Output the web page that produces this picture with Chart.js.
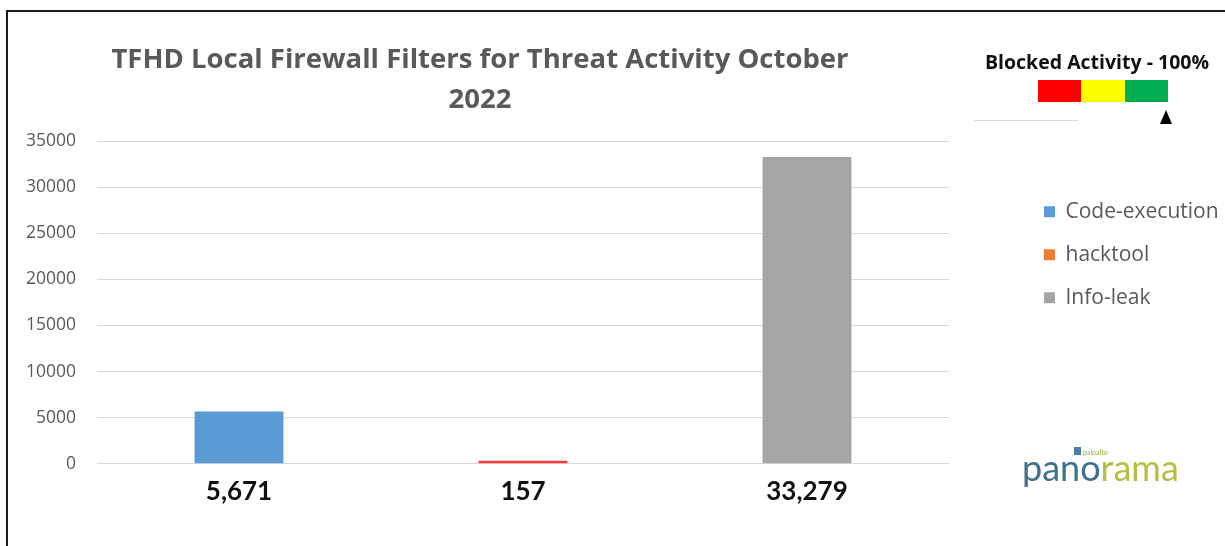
<!DOCTYPE html>
<html>
<head>
<meta charset="utf-8">
<script src="https://cdn.jsdelivr.net/npm/chart.js@4.4.0/dist/chart.umd.min.js"></script>
<style>
  html, body { margin: 0; padding: 0; background: #fff; }
  #wrap { width: 1225px; height: 546px; position: relative; }
</style>
</head>
<body>
<div id="wrap"><canvas id="chart"></canvas></div>
<script>
// Threat categories and counts
const seriesNames = ['Code-execution', 'hacktool', 'Info-leak'];
const xLabels = ['5,671', '157', '33,279'];
const values = [5671, 157, 33279];
const barColors = ['#5B9BD5', '#FF3B3B', '#A5A5A5'];
const legendColors = ['#5B9BD5', '#ED7D31', '#A5A5A5'];
const yTicks = [0, 5000, 10000, 15000, 20000, 25000, 30000, 35000];

const titleLines = ['TFHD Local Firewall Filters for Threat Activity October', '2022'];

// frame, gauge and logo drawn around the chart
const decorations = {
    id: 'decorations',
    afterLayout(chart) {
        // title sits centred over the left part, not the whole canvas
        const t = chart.titleBlock;
        if (t) { t.left = 0; t.right = 960; t.width = 960; }
    },
    beforeDraw(chart) {
        const ctx = chart.ctx;
        ctx.save();
        ctx.fillStyle = '#fff';
        ctx.fillRect(0, 0, chart.width, chart.height);
        ctx.strokeStyle = '#1a1a1a';
        ctx.lineWidth = 2;
        ctx.beginPath();
        ctx.moveTo(7, 546);
        ctx.lineTo(7, 11);
        ctx.lineTo(1225, 11);
        ctx.stroke();
        ctx.restore();
    },
    afterDraw(chart) {
        const ctx = chart.ctx;
        ctx.save();
        // Blocked activity gauge
        ctx.font = 'bold 19.5px "Open Sans"';
        ctx.fillStyle = '#111';
        ctx.textAlign = 'center';
        ctx.textBaseline = 'middle';
        ctx.fillText('Blocked Activity - 100%', 1097, 63);
        ctx.fillStyle = '#FF0000'; ctx.fillRect(1038, 80, 43, 22);
        ctx.fillStyle = '#FFFF00'; ctx.fillRect(1081, 80, 44, 22);
        ctx.fillStyle = '#00B050'; ctx.fillRect(1125, 80, 43, 22);
        ctx.fillStyle = '#000';
        ctx.beginPath();
        ctx.moveTo(1166, 110);
        ctx.lineTo(1160, 124);
        ctx.lineTo(1172, 124);
        ctx.closePath();
        ctx.fill();
        ctx.strokeStyle = '#d9d9d9';
        ctx.lineWidth = 1;
        ctx.beginPath();
        ctx.moveTo(974, 120.5);
        ctx.lineTo(1078, 120.5);
        ctx.stroke();

        // panorama logo
        ctx.textAlign = 'left';
        ctx.textBaseline = 'alphabetic';
        ctx.font = '36px Lato';
        ctx.fillStyle = '#40708E';
        ctx.fillText('pano', 1022, 481);
        const w = ctx.measureText('pano').width;
        ctx.fillStyle = '#B5C043';
        ctx.fillText('rama', 1022 + w, 481);
        ctx.fillStyle = '#4F7FA6';
        ctx.fillRect(1074, 447, 7, 8);
        ctx.font = '7px Lato';
        ctx.fillStyle = '#9AAA3A';
        ctx.fillText('paloalto', 1083, 455);
        ctx.restore();
    }
};

const ctx = document.getElementById('chart').getContext('2d');
new Chart(ctx, {
    type: 'bar',
    data: {
        labels: xLabels,
        datasets: [{
            label: 'Count',
            data: values,
            backgroundColor: barColors,
            borderWidth: 0,
            minBarLength: 3,
            categoryPercentage: 1,
            barPercentage: 0.313
        }]
    },
    options: {
        responsive: true,
        maintainAspectRatio: false,
        animation: false,
        layout: { padding: { left: 7, right: 0, top: 12, bottom: 27 } },
        plugins: {
            title: {
                display: true,
                text: titleLines,
                color: '#595959',
                font: { family: 'Open Sans', size: 27.5, weight: 'bold', lineHeight: 1.455 },
                padding: { top: 28, bottom: 21 }
            },
            legend: {
                position: 'right',
                align: 'start',
                fullSize: false,
                title: { display: true, text: ' ', font: { size: 1 }, padding: { top: 37, bottom: 0 } },
                labels: {
                    color: '#595959',
                    font: { family: 'Open Sans', size: 21 },
                    boxWidth: 11,
                    boxHeight: 11,
                    padding: 22,
                    generateLabels: () => seriesNames.map((name, i) => ({
                        text: name,
                        fillStyle: legendColors[i],
                        strokeStyle: legendColors[i],
                        lineWidth: 0,
                        fontColor: '#595959',
                        hidden: false,
                        index: i
                    }))
                },
                onClick: () => {}
            },
            tooltip: { enabled: false }
        },
        scales: {
            x: {
                grid: { display: false, drawTicks: false },
                border: { display: false },
                ticks: {
                    color: '#111',
                    font: { family: 'Lato', size: 26, weight: 'bold' },
                    padding: 12
                }
            },
            y: {
                min: 0,
                max: 35000,
                afterBuildTicks: s => { s.ticks = yTicks.map(v => ({ value: v })); },
                afterFit: s => { s.width = 90; },
                grid: { color: '#D9D9D9', drawTicks: false, lineWidth: 1 },
                border: { display: false },
                ticks: {
                    color: '#595959',
                    font: { family: 'Open Sans', size: 17.5 },
                    padding: 21,
                    callback: v => String(v)
                }
            },
            gap: {
                position: 'right',
                display: true,
                afterFit: s => { s.width = 73; },
                grid: { display: false },
                border: { display: false },
                ticks: { display: false }
            }
        }
    },
    plugins: [decorations]
});
</script>
</body>
</html>
